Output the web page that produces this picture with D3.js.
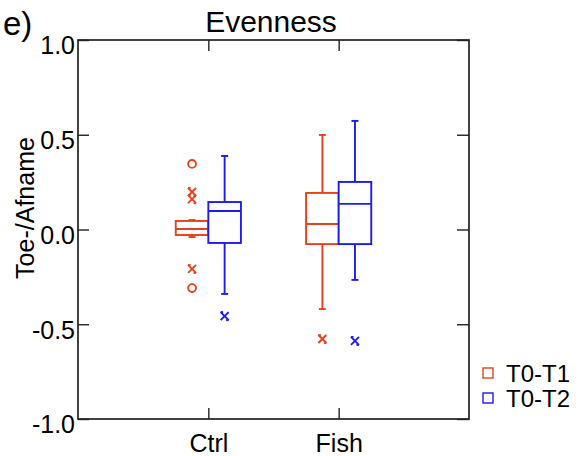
<!DOCTYPE html>
<html>
<head>
<meta charset="utf-8">
<script src="https://cdn.jsdelivr.net/npm/d3@7"></script>
<style>
  html, body { margin: 0; padding: 0; background: #fff; }
  svg { display: block; font-family: "Liberation Sans", Arial, sans-serif; }
</style>
</head>
<body>
<svg id="chart" width="578" height="456"></svg>
<script>
// Groups along the x axis and the two compared intervals
const groups = ["Ctrl", "Fish"];
const series = ["T0-T1", "T0-T2"];
const colors = ["#e8401c", "#1c1ced"];

// Box statistics per series, indexed by group
const whiskerLow  = [[-0.04, -0.42], [-0.34, -0.266]];
const quartile1   = [[-0.029, -0.077], [-0.071, -0.077]];
const medians     = [[0.003, 0.029], [0.098, 0.135]];
const quartile3   = [[0.045, 0.193], [0.145, 0.251]];
const whiskerHigh = [[0.05, 0.499], [0.388, 0.573]];

// Outlying points: [series, group, value, marker]
const outliers = [
  [0, 0, 0.346, "circle"],
  [0, 0, 0.198, "cross"],
  [0, 0, 0.160, "cross"],
  [0, 0, -0.208, "cross"],
  [0, 0, -0.309, "circle"],
  [1, 0, -0.457, "cross"],
  [0, 1, -0.578, "cross"],
  [1, 1, -0.588, "cross"]
];

const yTicks = [1.0, 0.5, 0.0, -0.5, -1.0];

const svg = d3.select("#chart");
const plotL = 78, plotR = 469, plotT = 40, plotB = 419;

const x = d3.scalePoint().domain(groups).range([plotL, plotR]).padding(1);
const y = d3.scaleLinear().domain([-1, 1]).range([plotB, plotT]);
const boxW = x.step() / 4;
const capW = 7;

// Frame
svg.append("rect")
  .attr("x", plotL).attr("y", plotT)
  .attr("width", plotR - plotL).attr("height", plotB - plotT)
  .attr("fill", "none").attr("stroke", "#222").attr("stroke-width", 1.7);

// Axes with inward ticks
const yAxisL = d3.axisLeft(y).tickValues(yTicks).tickSize(-11).tickFormat(d3.format(".1f"));
const gL = svg.append("g").attr("transform", `translate(${plotL},0)`).call(yAxisL);
gL.select(".domain").remove();
gL.selectAll("line").attr("stroke", "#222").attr("stroke-width", 1.4);
gL.selectAll("text")
  .attr("x", -3).attr("dy", "0.55em")
  .attr("font-size", 25).attr("fill", "#000")
  .text(d => d3.format(".1f")(d).replace("−", "-"));

const yAxisR = d3.axisRight(y).tickValues(yTicks).tickSize(-12).tickFormat("");
const gR = svg.append("g").attr("transform", `translate(${plotR},0)`).call(yAxisR);
gR.select(".domain").remove();
gR.selectAll("line").attr("stroke", "#222").attr("stroke-width", 1.4);

const xAxisB = d3.axisBottom(x).tickSize(-11);
const gB = svg.append("g").attr("transform", `translate(0,${plotB})`).call(xAxisB);
gB.select(".domain").remove();
gB.selectAll("line").attr("stroke", "#222").attr("stroke-width", 1.4);
gB.selectAll("text").attr("y", 33).attr("dy", 0)
  .attr("font-size", 25).attr("fill", "#000");

const xAxisT = d3.axisTop(x).tickSize(-11).tickFormat("");
const gT = svg.append("g").attr("transform", `translate(0,${plotT})`).call(xAxisT);
gT.select(".domain").remove();
gT.selectAll("line").attr("stroke", "#222").attr("stroke-width", 1.4);

// Boxes
series.forEach((s, si) => {
  const g = svg.append("g").attr("stroke", colors[si]).attr("fill", "none").attr("stroke-width", 1.9);
  groups.forEach((grp, gi) => {
    const x0 = x(grp) + (si === 0 ? -boxW : 0);
    const cx = x0 + boxW / 2;
    // whiskers
    g.append("line").attr("x1", cx).attr("x2", cx)
      .attr("y1", y(quartile3[si][gi])).attr("y2", y(whiskerHigh[si][gi]));
    g.append("line").attr("x1", cx).attr("x2", cx)
      .attr("y1", y(quartile1[si][gi])).attr("y2", y(whiskerLow[si][gi]));
    g.append("line").attr("x1", cx - capW / 2).attr("x2", cx + capW / 2)
      .attr("y1", y(whiskerHigh[si][gi])).attr("y2", y(whiskerHigh[si][gi]));
    g.append("line").attr("x1", cx - capW / 2).attr("x2", cx + capW / 2)
      .attr("y1", y(whiskerLow[si][gi])).attr("y2", y(whiskerLow[si][gi]));
    // box
    g.append("rect").attr("x", x0).attr("width", boxW)
      .attr("y", y(quartile3[si][gi]))
      .attr("height", y(quartile1[si][gi]) - y(quartile3[si][gi]))
      .attr("fill", "#fff");
    // median
    g.append("line").attr("x1", x0).attr("x2", x0 + boxW)
      .attr("y1", y(medians[si][gi])).attr("y2", y(medians[si][gi]));
  });
});

// Outlier markers
outliers.forEach(([si, gi, v, m]) => {
  const cx = x(groups[gi]) + (si === 0 ? -boxW / 2 : boxW / 2);
  const cy = y(v);
  const g = svg.append("g").attr("stroke", colors[si]).attr("fill", "none").attr("stroke-width", 1.9);
  if (m === "circle") {
    g.append("circle").attr("cx", cx).attr("cy", cy).attr("r", 3.9);
  } else {
    const r = 4;
    g.append("line").attr("x1", cx - r).attr("y1", cy - r).attr("x2", cx + r).attr("y2", cy + r);
    g.append("line").attr("x1", cx - r).attr("y1", cy + r).attr("x2", cx + r).attr("y2", cy - r);
    g.append("line").attr("x1", cx - r).attr("y1", cy - r).attr("x2", cx - r + 2.5).attr("y2", cy - r);
    g.append("line").attr("x1", cx + r).attr("y1", cy + r).attr("x2", cx + r - 2.5).attr("y2", cy + r);
  }
});

// Titles
svg.append("text").attr("x", 271).attr("y", 32).attr("text-anchor", "middle")
  .attr("font-size", 30).attr("fill", "#000").text("Evenness");
svg.append("text").attr("x", 3).attr("y", 35)
  .attr("font-size", 33).attr("fill", "#000").text("e)");
svg.append("text")
  .attr("transform", "translate(34,208) rotate(-90)")
  .attr("text-anchor", "middle").attr("font-size", 25).attr("fill", "#000")
  .text("Toe-/Afname");

// Legend
series.forEach((s, si) => {
  const ly = 373 + si * 25;
  svg.append("rect").attr("x", 483).attr("y", ly - 5).attr("width", 10).attr("height", 10)
    .attr("fill", "none").attr("stroke", colors[si]).attr("stroke-width", 1.4);
  svg.append("text").attr("x", 506).attr("y", ly + 9)
    .attr("font-size", 24).attr("fill", "#000").text(s);
});
</script>
</body>
</html>
